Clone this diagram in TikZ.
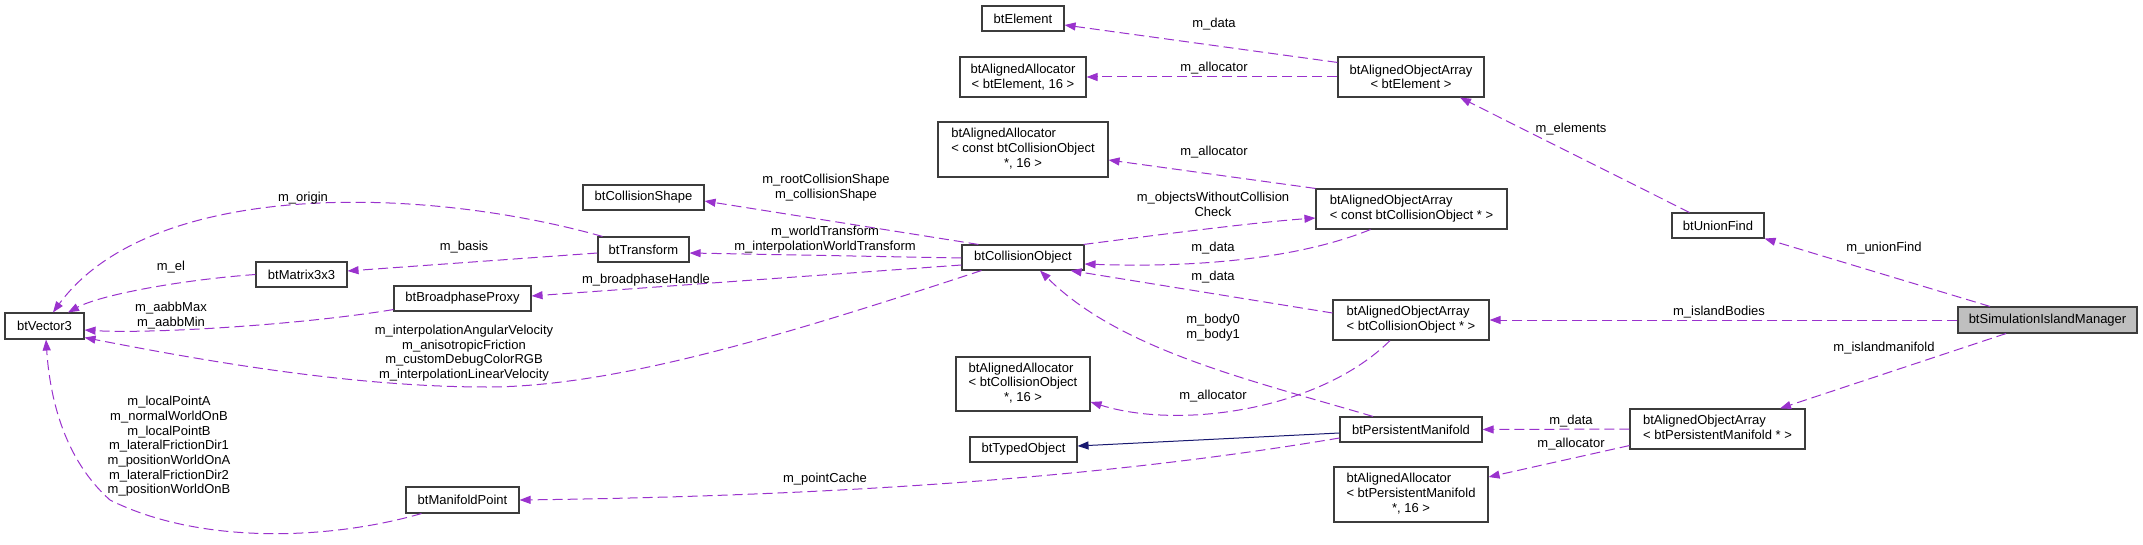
\documentclass[tikz,border=0pt]{standalone}
\usepackage{fontspec}
\setmainfont{Liberation Sans}
\usetikzlibrary{arrows.meta}
\definecolor{edgep}{RGB}{154,50,205}
\definecolor{inh}{RGB}{25,25,112}
\definecolor{boxc}{RGB}{60,60,60}
\definecolor{fillg}{RGB}{191,191,191}
\newcommand{\lcol}[1]{\begin{tabular}{@{}l@{}}#1\end{tabular}}
\begin{document}
\begin{tikzpicture}[x=1pt,y=-1pt,
  font=\fontsize{13}{14.7}\selectfont,
  cls/.style={draw=boxc, line width=1.1pt, fill=white, inner sep=0pt, align=center},
  lbl/.style={inner sep=0pt, align=center},
  mem/.style={draw=edgep, line width=1pt, dash pattern=on 10pt off 5pt, -{Triangle[length=11pt,width=8pt]}},
  inhe/.style={draw=inh, line width=1pt, -{Triangle[length=11pt,width=8pt]}}]
\useasboundingbox (0,0) rectangle (2143,545);
% classes
\node[cls, minimum width=79pt, minimum height=26pt] (v3) at (44.5,326) {btVector3};
\node[cls, minimum width=91pt, minimum height=25pt] (mat) at (301.5,274.5) {btMatrix3x3};
\node[cls, minimum width=137pt, minimum height=25pt] (bp) at (462.5,298.5) {btBroadphaseProxy};
\node[cls, minimum width=113pt, minimum height=26pt] (mp) at (462.5,500) {btManifoldPoint};
\node[cls, minimum width=121pt, minimum height=25pt] (cs) at (643.5,197.5) {btCollisionShape};
\node[cls, minimum width=91pt, minimum height=25pt] (tf) at (643.5,249.5) {btTransform};
\node[cls, minimum width=82pt, minimum height=25pt] (el) at (1023,18.5) {btElement};
\node[cls, minimum width=126pt, minimum height=40pt] (aae) at (1023,77) {btAlignedAllocator\\\textless{} btElement, 16 \textgreater};
\node[cls, minimum width=146pt, minimum height=40pt] (aaoe) at (1411,77) {btAlignedObjectArray\\\textless{} btElement \textgreater};
\node[cls, minimum width=170pt, minimum height=55pt] (aacco) at (1023,149.5) {\lcol{btAlignedAllocator\\\textless{} const btCollisionObject\\\multicolumn{1}{@{}c@{}}{*, 16 \textgreater}}};
\node[cls, minimum width=191pt, minimum height=40pt] (aaocco) at (1411.5,209) {\lcol{btAlignedObjectArray\\\textless{} const btCollisionObject * \textgreater}};
\node[cls, minimum width=122pt, minimum height=25pt] (co) at (1023,257.5) {btCollisionObject};
\node[cls, minimum width=156pt, minimum height=40pt] (aaoco) at (1411,320) {\lcol{btAlignedObjectArray\\\textless{} btCollisionObject * \textgreater}};
\node[cls, minimum width=134pt, minimum height=54pt] (aaco) at (1023,384) {\lcol{btAlignedAllocator\\\textless{} btCollisionObject\\\multicolumn{1}{@{}c@{}}{*, 16 \textgreater}}};
\node[cls, minimum width=142pt, minimum height=25pt] (pm) at (1411,429.5) {btPersistentManifold};
\node[cls, minimum width=107pt, minimum height=25pt] (to) at (1023.5,449.5) {btTypedObject};
\node[cls, minimum width=154pt, minimum height=55pt] (aapm) at (1411,494.5) {\lcol{btAlignedAllocator\\\textless{} btPersistentManifold\\\multicolumn{1}{@{}c@{}}{*, 16 \textgreater}}};
\node[cls, minimum width=92pt, minimum height=25pt] (uf) at (1718,225.5) {btUnionFind};
\node[cls, fill=fillg, minimum width=179pt, minimum height=26pt] (sim) at (2047.5,320) {btSimulationIslandManager};
\node[cls, minimum width=175pt, minimum height=40pt] (aaopm) at (1717.5,429) {\lcol{btAlignedObjectArray\\\textless{} btPersistentManifold * \textgreater}};
% edges
\draw[mem] ([xshift=5pt]tf.north west) .. controls (420,185) and (150,180) .. ([xshift=8.5pt]v3.north);
\draw[mem] ([yshift=-3.5pt]tf.west) -- ([yshift=3.5pt]mat.east);
\draw[mem] (mat.west) .. controls (180,280) and (100,295) .. ([xshift=23.5pt]v3.north);
\draw[mem] ([yshift=2pt]bp.south west) .. controls (300,325) and (150,334) .. ([yshift=-4pt]v3.east);
\draw[mem] ([xshift=20pt]co.south west) .. controls (800,330) and (620,387) .. (487,387) .. controls (350,387) and (200,360) .. ([yshift=2pt]v3.south east);
\draw[mem] ([xshift=16pt]mp.south west) .. controls (330,540) and (200,545) .. (110,500) .. controls (65,460) and (50,400) .. ([xshift=1.5pt]v3.south);
\draw[mem] ([xshift=17pt]co.north west) -- ([yshift=-3.5pt]cs.east);
\draw[mem] ([yshift=-0.5pt]co.west) -- ([yshift=-3.5pt]tf.east);
\draw[mem] ([yshift=-7.5pt]co.west) -- ([yshift=2.5pt]bp.east);
\draw[mem] ([xshift=-1pt]co.north east) .. controls (1180,232) and (1260,222) .. ([yshift=-9pt]aaocco.west);
\draw[mem] ([xshift=-41pt]aaocco.south) .. controls (1300,258) and (1200,268) .. ([yshift=-6.5pt]co.east);
\draw[mem] (aaocco.north west) -- ([yshift=-10.5pt]aacco.east);
\draw[mem] ([yshift=-6pt]aaoe.north west) -- ([yshift=-6.5pt]el.east);
\draw[mem] (aaoe.west) -- (aae.east);
\draw[mem] ([xshift=18pt]uf.north west) -- ([xshift=49pt]aaoe.south);
\draw[mem] ([yshift=7pt]aaoco.west) -- ([xshift=-14pt]co.south east);
\draw[mem] ([xshift=-38pt]pm.north) .. controls (1250,380) and (1120,350) .. ([xshift=17pt]co.south);
\draw[mem] ([xshift=-21pt]aaoco.south) .. controls (1320,410) and (1180,430) .. ([yshift=-18pt]aaco.east);
\draw[inhe] ([yshift=-3.5pt]pm.west) -- ([yshift=3.5pt]to.east);
\draw[mem] ([yshift=-8.5pt]pm.west) .. controls (1150,470) and (900,495) .. (mp.east);
\draw[mem] (aaopm.west) -- (pm.east);
\draw[mem] ([yshift=4pt]aaopm.south west) -- ([yshift=17.5pt]aapm.east);
\draw[mem] ([xshift=-57.5pt]sim.north) -- (uf.south east);
\draw[mem] (sim.west) -- (aaoco.east);
\draw[mem] ([xshift=-41.5pt]sim.south) -- ([xshift=62.5pt]aaopm.north);
% labels
\node[lbl] (l1) at (303,198) {m\_origin};
\node[lbl] (l2) at (464,247) {m\_basis};
\node[lbl] (l3) at (171,267) {m\_el};
\node[lbl] (l4) at (171,315.5) {m\_aabbMax\\m\_aabbMin};
\node[lbl] (l5) at (464,353) {m\_interpolationAngularVelocity\\m\_anisotropicFriction\\m\_customDebugColorRGB\\m\_interpolationLinearVelocity};
\node[lbl] (l6) at (169,446.5) {m\_localPointA\\m\_normalWorldOnB\\m\_localPointB\\m\_lateralFrictionDir1\\m\_positionWorldOnA\\m\_lateralFrictionDir2\\m\_positionWorldOnB};
\node[lbl] (l7) at (826,187.5) {m\_rootCollisionShape\\m\_collisionShape};
\node[lbl] (l8) at (825,239.5) {m\_worldTransform\\m\_interpolationWorldTransform};
\node[lbl] (l9) at (646,280.5) {m\_broadphaseHandle};
\node[lbl] (l10) at (1214,24) {m\_data};
\node[lbl] (l11) at (1214,68) {m\_allocator};
\node[lbl] (l12) at (1214,152) {m\_allocator};
\node[lbl] (l13) at (1213,204.5) {m\_objectsWithoutCollision\\Check};
\node[lbl] (l14) at (1213,248) {m\_data};
\node[lbl] (l15) at (1213,277) {m\_data};
\node[lbl] (l16) at (1213,327.5) {m\_body0\\m\_body1};
\node[lbl] (l17) at (1213,396) {m\_allocator};
\node[lbl] (l18) at (825,479) {m\_pointCache};
\node[lbl] (l19) at (1571,129) {m\_elements};
\node[lbl] (l20) at (1884,248) {m\_unionFind};
\node[lbl] (l21) at (1719,312) {m\_islandBodies};
\node[lbl] (l22) at (1884,348) {m\_islandmanifold};
\node[lbl] (l23) at (1571,421) {m\_data};
\node[lbl] (l24) at (1571,444) {m\_allocator};
\end{tikzpicture}
\end{document}
